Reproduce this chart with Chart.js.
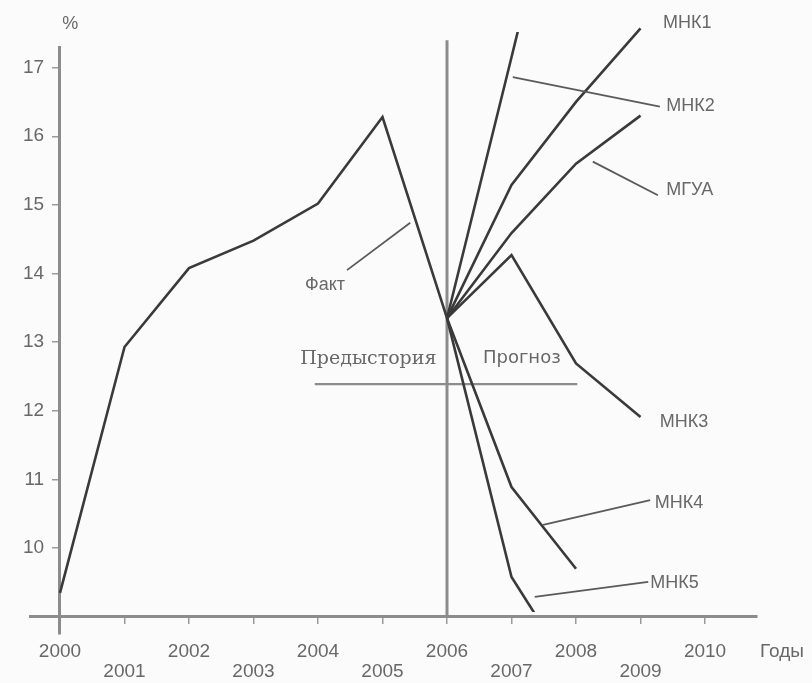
<!DOCTYPE html>
<html>
<head>
<meta charset="utf-8">
<script src="https://cdn.jsdelivr.net/npm/chart.js@4/dist/chart.umd.min.js"></script>
<style>
  html, body { margin: 0; padding: 0; background: #fbfbfb; }
  #wrap { width: 812px; height: 683px; position: relative; }
</style>
</head>
<body>
<div id="wrap"><canvas id="c" width="812" height="683"></canvas></div>
<script>
// ---- data ----
const yearTicks = [2000, 2001, 2002, 2003, 2004, 2005, 2006, 2007, 2008, 2009, 2010];
const valueTicks = [10, 11, 12, 13, 14, 15, 16, 17];

const factYears = [2000, 2001, 2002, 2003, 2004, 2005, 2006];
const factValues = [9.35, 12.93, 14.08, 14.48, 15.02, 16.28, 13.35];

const forecastYears = [2006, 2007, 2008, 2009];
const mnk1Values = [13.35, 15.29, 16.5, 17.57];
const mnk2Values = [13.35, 17.15, 21.0];   // leaves the plot at the top
const mguaValues = [13.35, 14.59, 15.6, 16.3];
const mnk3Values = [13.35, 14.27, 12.69, 11.91];
const mnk4Values = [13.35, 10.89, 9.7];
const mnk5Values = [13.35, 9.58, 8.1];     // leaves the plot at the bottom

const seriesNames = ['Факт', 'МНК1', 'МНК2', 'МГУА', 'МНК3', 'МНК4', 'МНК5'];
const unitLabel = '%';
const xAxisTitle = 'Годы';
const historyLabel = 'Предыстория';
const forecastLabel = 'Прогноз';
const divideYear = 2006;

// ---- annotation placement (in data coordinates) ----
const seriesLabelPos = [
  { text: 'МНК1', x: 2009.35, y: 17.65 },
  { text: 'МНК2', x: 2009.40, y: 16.44 },
  { text: 'МГУА', x: 2009.40, y: 15.22 },
  { text: 'МНК3', x: 2009.30, y: 11.84 },
  { text: 'МНК4', x: 2009.22, y: 10.66 },
  { text: 'МНК5', x: 2009.15, y: 9.49 },
  { text: 'Факт', x: 2003.80, y: 13.83 }
];
const pointerLines = [
  [2004.45, 14.05, 2005.43, 14.74],
  [2007.02, 16.86, 2009.30, 16.43],
  [2008.26, 15.63, 2009.27, 15.14],
  [2007.49, 10.34, 2009.15, 10.70],
  [2007.36, 9.29, 2009.12, 9.51]
];

const LINE = '#3a3a3a';
const AXIS = '#8c8c8c';
const TEXT = '#686868';

function pts(xs, ys) { return ys.map((v, i) => ({ x: xs[i], y: v })); }
function ds(label, xs, ys, clip) {
  return {
    label, data: pts(xs, ys), borderColor: LINE, borderWidth: 2.6,
    pointRadius: 0, tension: 0, fill: false, clip: clip
  };
}

const annot = {
  id: 'annot',
  beforeDatasetsDraw(chart) {
    const { ctx, scales: { x, y } } = chart;
    ctx.save();
    ctx.strokeStyle = AXIS;
    ctx.lineCap = 'butt';
    ctx.lineWidth = 3;
    ctx.beginPath();
    ctx.moveTo(x.getPixelForValue(divideYear), y.getPixelForValue(17.40));
    ctx.lineTo(x.getPixelForValue(divideYear), y.getPixelForValue(9));
    ctx.stroke();
    ctx.lineWidth = 2.4;
    ctx.beginPath();
    ctx.moveTo(x.getPixelForValue(2003.95), y.getPixelForValue(12.39));
    ctx.lineTo(x.getPixelForValue(2008.02), y.getPixelForValue(12.39));
    ctx.stroke();
    ctx.restore();
  },
  afterDatasetsDraw(chart) {
    const { ctx, scales: { x, y } } = chart;
    ctx.save();
    ctx.strokeStyle = '#5a5a5a';
    ctx.lineWidth = 1.8;
    pointerLines.forEach(p => {
      ctx.beginPath();
      ctx.moveTo(x.getPixelForValue(p[0]), y.getPixelForValue(p[1]));
      ctx.lineTo(x.getPixelForValue(p[2]), y.getPixelForValue(p[3]));
      ctx.stroke();
    });
    ctx.fillStyle = TEXT;
    ctx.textBaseline = 'middle';
    ctx.font = '18px "Liberation Sans", Arial, sans-serif';
    ctx.textAlign = 'left';
    seriesLabelPos.forEach(l => {
      ctx.fillText(l.text, x.getPixelForValue(l.x), y.getPixelForValue(l.y));
    });
    ctx.textAlign = 'center';
    ctx.fillText(unitLabel, x.getPixelForValue(2000.16), y.getPixelForValue(17.63));
    ctx.font = '19px "DejaVu Serif", serif';
    ctx.fillText(historyLabel, x.getPixelForValue(2004.78), y.getPixelForValue(12.76));
    ctx.font = '18px "DejaVu Sans", sans-serif';
    ctx.fillText(forecastLabel, x.getPixelForValue(2007.16), y.getPixelForValue(12.76));
    ctx.font = '19px "Liberation Sans", Arial, sans-serif';
    ctx.textAlign = 'left';
    const ay = y.getPixelForValue(9) + 6 + 18 + 10.5;
    ctx.fillText(xAxisTitle, x.right + 3, ay);
    ctx.restore();
  }
};

new Chart(document.getElementById('c'), {
  type: 'line',
  data: {
    datasets: [
      ds(seriesNames[0], factYears, factValues, 4),
      ds(seriesNames[1], forecastYears, mnk1Values, { left: 4, top: 25, right: 4, bottom: 4 }),
      ds(seriesNames[2], forecastYears, mnk2Values, { left: 4, top: 15, right: 4, bottom: 4 }),
      ds(seriesNames[3], forecastYears, mguaValues, 4),
      ds(seriesNames[4], forecastYears, mnk3Values, 4),
      ds(seriesNames[5], forecastYears, mnk4Values, 4),
      ds(seriesNames[6], forecastYears, mnk5Values, { left: 4, top: 4, right: 4, bottom: -22 })
    ]
  },
  options: {
    responsive: false,
    animation: false,
    devicePixelRatio: 1,
    layout: { padding: { left: 30, right: 55, top: 47, bottom: 49 } },
    plugins: { legend: { display: false }, tooltip: { enabled: false } },
    scales: {
      x: {
        type: 'linear', axis: 'x',
        position: { y: 9 },
        min: 1999.535, max: 2010.806,
        afterBuildTicks: s => { s.ticks = yearTicks.map(v => ({ value: v })); },
        ticks: {
          autoSkip: false, maxRotation: 0, padding: 18, color: TEXT,
          font: { family: '"Liberation Sans", Arial, sans-serif', size: 19, lineHeight: 1.1 },
          callback: v => (v % 2 ? ['', String(v)] : String(v))
        },
        grid: { drawOnChartArea: false, drawTicks: true, tickLength: 6, color: '#9a9a9a', lineWidth: 1.5 },
        border: { color: AXIS, width: 3 }
      },
      y: {
        type: 'linear', axis: 'y',
        position: { x: 2000 },
        min: 8.75, max: 17.3,
        afterBuildTicks: s => { s.ticks = valueTicks.map(v => ({ value: v })); },
        ticks: {
          padding: 11, color: TEXT,
          font: { family: '"Liberation Sans", Arial, sans-serif', size: 19 },
          // custom-positioned axes draw labels flush with the axis line; trailing spaces keep a gap
          callback: v => String(v) + '   '
        },
        grid: { drawOnChartArea: false, drawTicks: true, tickLength: 6, color: '#9a9a9a', lineWidth: 1.5 },
        border: { color: AXIS, width: 3 }
      }
    }
  },
  plugins: [annot]
});
</script>
</body>
</html>
